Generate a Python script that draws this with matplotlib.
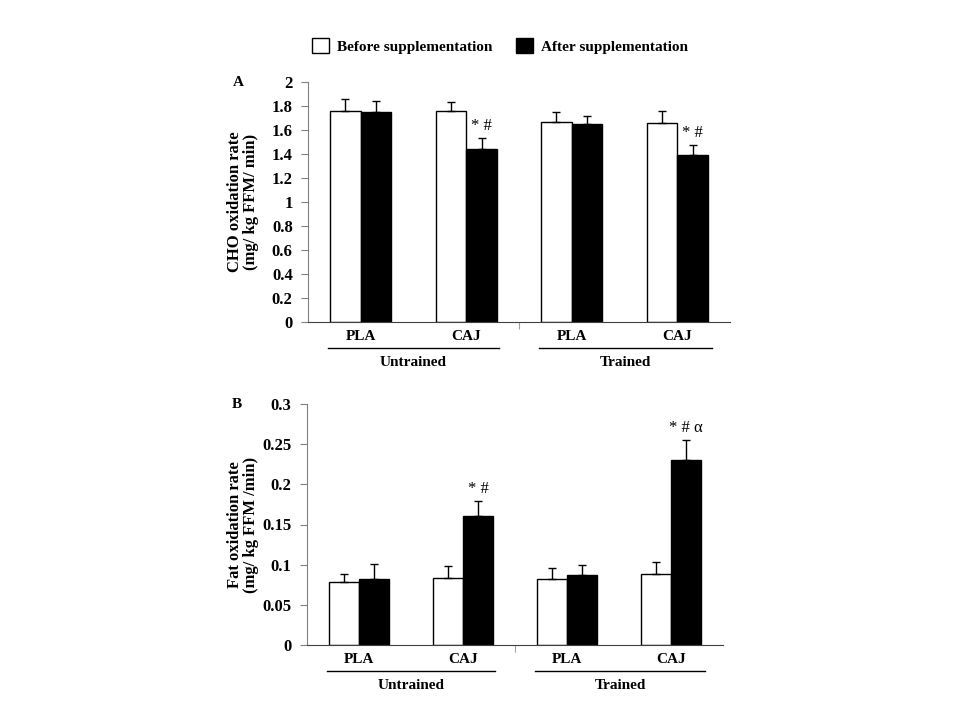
import matplotlib
matplotlib.use("Agg")
import matplotlib.pyplot as plt
from matplotlib.patches import Patch
from matplotlib.lines import Line2D
import numpy as np

plt.rcParams['font.family'] = ['Liberation Serif', 'DejaVu Serif']

# data
groups = ["PLA", "CAJ", "PLA", "CAJ"]
training = ["Untrained", "Trained"]

cho_before = [1.76, 1.76, 1.67, 1.66]
cho_before_err = [0.10, 0.07, 0.08, 0.10]
cho_after = [1.75, 1.44, 1.65, 1.39]
cho_after_err = [0.09, 0.09, 0.07, 0.085]
cho_marks = ["", "* #", "", "* #"]

fat_before = [0.079, 0.084, 0.082, 0.089]
fat_before_err = [0.010, 0.014, 0.014, 0.014]
fat_after = [0.082, 0.160, 0.087, 0.230]
fat_after_err = [0.019, 0.019, 0.012, 0.025]
fat_marks = ["", "* #", "", "* # \u03b1"]

fig = plt.figure(figsize=(9.6, 7.2), dpi=100)
W, H = 960, 720


def panel(box, before, before_err, after, after_err, marks, ymax, ystep, ylabel, letter):
    x0, x1, ytop, ybot = box
    ax = fig.add_axes([x0 / W, 1 - ybot / H, (x1 - x0) / W, (ybot - ytop) / H])
    x = np.arange(len(groups))
    w = 0.29
    ekw = dict(ecolor="black", elinewidth=1, capsize=3.2, capthick=1)
    ax.bar(x - w / 2, before, w, color="white", edgecolor="black", linewidth=1,
           yerr=[np.zeros(4), before_err], error_kw=ekw)
    ax.bar(x + w / 2, after, w, color="black", edgecolor="black", linewidth=1,
           yerr=[np.zeros(4), after_err], error_kw=ekw)
    for i, m in enumerate(marks):
        if m:
            ax.annotate(m, (x[i] + w / 2, after[i] + after_err[i]), xytext=(0, 3),
                        textcoords="offset points", ha="center", va="bottom", fontsize=12)
    ax.set_xlim(-0.5, 3.5)
    ax.set_ylim(0, ymax)
    ticks = np.round(np.arange(0, ymax + ystep / 2, ystep), 2)
    ax.set_yticks(ticks)
    ax.set_yticklabels([("%g" % t) for t in ticks], fontsize=12, fontweight="bold")
    ax.set_xticks([1.5])
    ax.set_xticklabels([""])
    ax.tick_params(axis="y", length=5, color="#808080", direction="out", pad=6)
    ax.tick_params(axis="x", length=5, color="#a0a0a0", direction="out")
    for s in ["top", "right"]:
        ax.spines[s].set_visible(False)
    ax.spines["left"].set_color("#808080")
    ax.spines["bottom"].set_color("#404040")
    ax.set_ylabel(ylabel, fontsize=12, fontweight="bold", linespacing=1.0)
    ax.yaxis.set_label_coords((243 - x0) / (x1 - x0), 0.5)
    ax.yaxis.label.set_verticalalignment("center")
    # category labels + group lines
    tr = ax.get_xaxis_transform()
    for i, g in enumerate(groups):
        ax.text(x[i], -0.06, g, transform=tr, ha="center", va="center", fontsize=11, fontweight="bold")
    for (a, b), t in zip([(-0.31, 1.31), (1.69, 3.33)], training):
        ax.add_line(Line2D([a, b], [-0.107, -0.107], transform=tr, color="black", lw=1, clip_on=False))
        ax.text((a + b) / 2, -0.168, t, transform=tr, ha="center", va="center", fontsize=11, fontweight="bold")
    fig.text((x0 - 70) / W, 1 - ytop / H, letter, ha="center", va="center", fontsize=11, fontweight="bold")
    return ax


panel((308, 730, 82, 322), cho_before, cho_before_err, cho_after, cho_after_err, cho_marks,
      2, 0.2, "CHO oxidation rate\n(mg/ kg FFM/ min)", "A")
panel((307, 723, 404, 645), fat_before, fat_before_err, fat_after, fat_after_err, fat_marks,
      0.3, 0.05, "Fat oxidation rate\n(mg/ kg FFM /min)", "B")

handles = [Patch(facecolor="white", edgecolor="black", label="Before supplementation"),
           Patch(facecolor="black", edgecolor="black", label="After supplementation")]
fig.legend(handles=handles, loc="center", bbox_to_anchor=(500 / W, 1 - 46 / H), ncol=2, frameon=False,
           prop=dict(size=11, weight="bold"), handlelength=1.1, handleheight=1.1, columnspacing=1.6,
           handletextpad=0.5)

fig.savefig("out.png", dpi=100)
